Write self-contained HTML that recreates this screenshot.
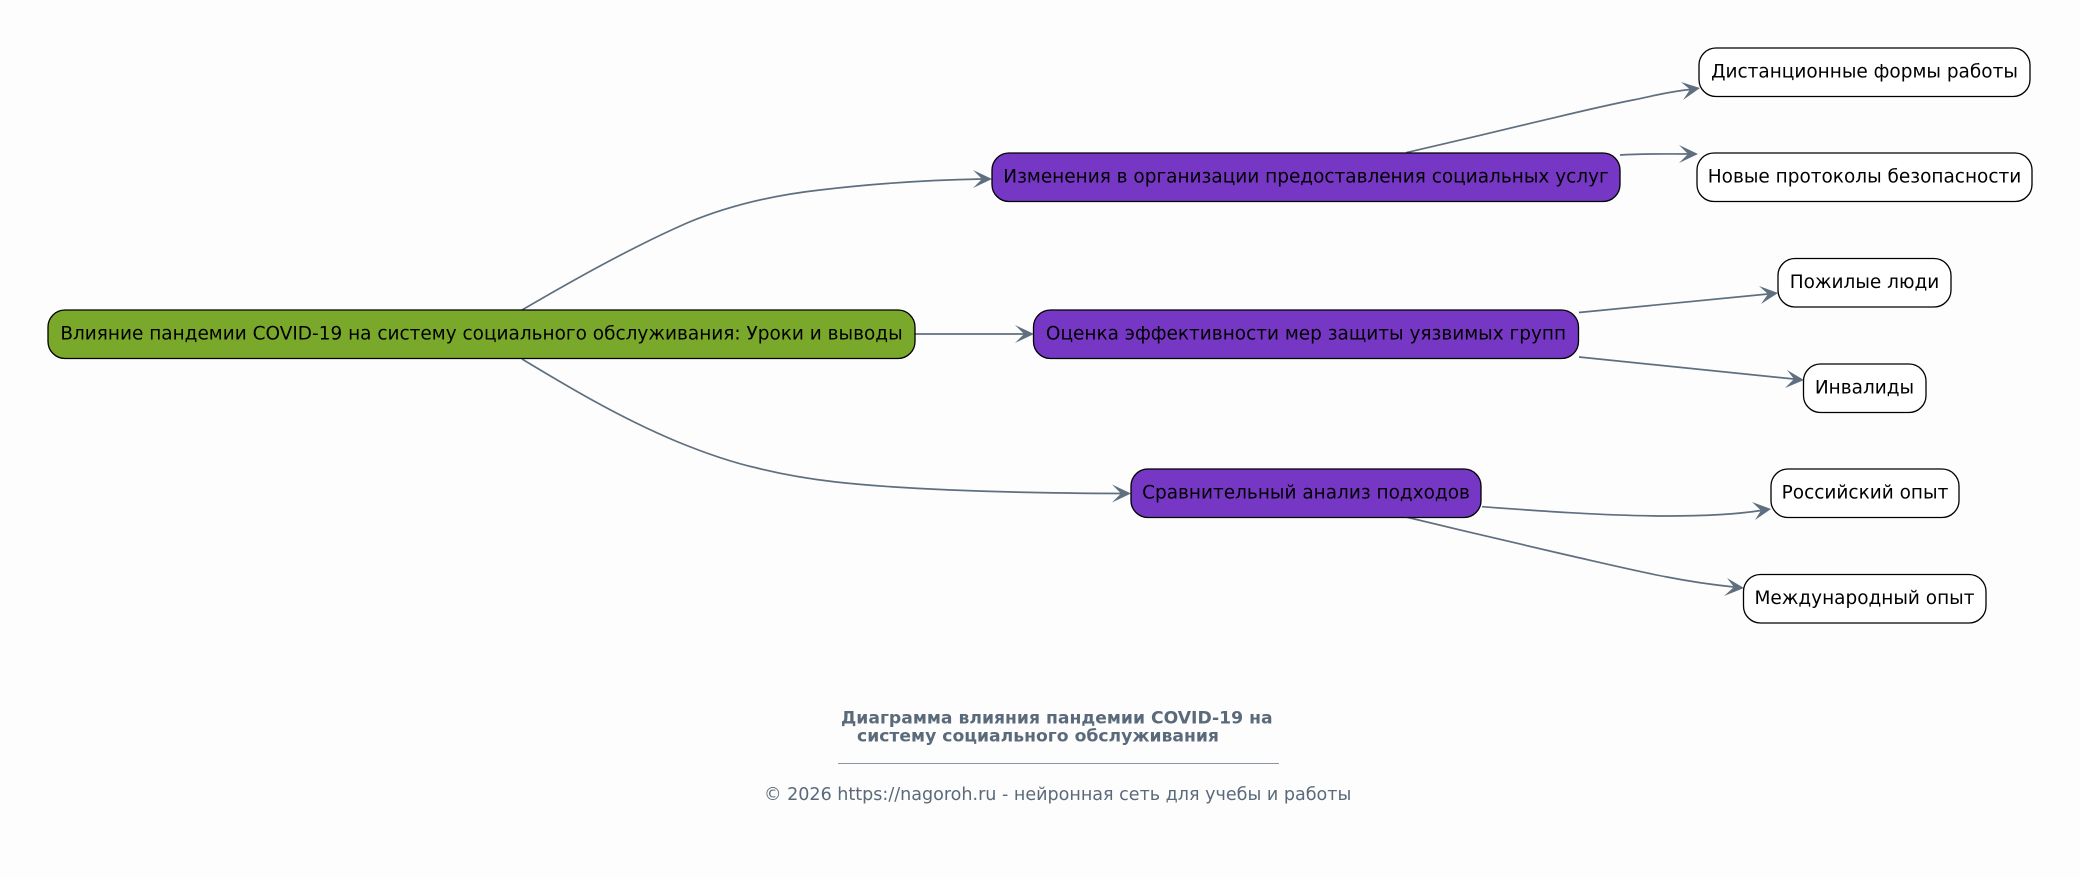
<!DOCTYPE html>
<html><head><meta charset="utf-8"><style>
html,body{margin:0;padding:0;background:#fdfdfd}
svg{display:block}
text{font-family:"DejaVu Sans",sans-serif;fill:#000}
.n{font-size:18.48px;text-anchor:middle}
.e{fill:none;stroke:#5f6f7f;stroke-width:1.7}
.a{fill:#5f6f7f}
.f{fill:#5a6a7a}
</style></head><body>
<svg width="2080" height="879" viewBox="0 0 2080 879" xmlns="http://www.w3.org/2000/svg">
<rect width="2080" height="879" fill="#fdfdfd"/>
<path class="e" d="M522,310 C570,282 630,248 687,223 C730,205 775,195 820,190 C870,184 930,180 982,179"/>
<polygon class="a" points="992,179 973,170 982,179 973,188"/>
<path class="e" d="M915,334 L1024,334"/>
<polygon class="a" points="1034,334 1015,325 1024,334 1015,343"/>
<path class="e" d="M522,359 C565,385 620,418 678,442 C705,453 730,462 757,468 C785,475 810,479 836,482 C900,489 1000,493 1121,493.5"/>
<polygon class="a" points="1131,493.5 1112,484.5 1121,493.5 1112,502.5"/>
<path class="e" d="M1406,152.7 C1450,142.5 1490,133 1533,122.7 C1570,114 1600,106.500 1633,100 C1655,95.500 1672,91 1690,89.500"/>
<polygon class="a" points="1700,88 1681,82 1690,89.500 1683,100"/>
<path class="e" d="M1620,155 C1645,153.500 1665,154 1688,154"/>
<polygon class="a" points="1698,154 1679,145 1688,154 1679,163"/>
<path class="e" d="M1579,312.500 L1768,294"/>
<polygon class="a" points="1778,293 1759,286 1768,294 1761,304"/>
<path class="e" d="M1579,357 L1794,379"/>
<polygon class="a" points="1804,380 1787,370 1794,379 1785,388"/>
<path class="e" d="M1482,506.7 C1540,511 1610,516 1667,516 C1700,516 1735,514.500 1761,510.500"/>
<polygon class="a" points="1771,509 1752,502 1761,510.500 1755,520"/>
<path class="e" d="M1406,517 C1460,530 1510,542 1567,555 C1600,562.500 1640,572 1667,577 C1690,581.500 1715,585 1734,587"/>
<polygon class="a" points="1744,588 1727,578 1734,587 1724,596"/>
<rect x="48" y="310" width="867" height="48.500" rx="17" fill="#7aa82a" stroke="#000" stroke-width="1.3"/>
<rect x="992" y="153" width="628" height="48.500" rx="17" fill="#7637c4" stroke="#000" stroke-width="1.3"/>
<rect x="1033.500" y="310" width="545" height="48.500" rx="17" fill="#7637c4" stroke="#000" stroke-width="1.3"/>
<rect x="1131" y="469" width="350" height="48.500" rx="17" fill="#7637c4" stroke="#000" stroke-width="1.3"/>
<rect x="1699" y="48" width="331" height="48.500" rx="17" fill="#fff" stroke="#000" stroke-width="1.3"/>
<rect x="1697" y="153" width="335" height="48.500" rx="17" fill="#fff" stroke="#000" stroke-width="1.3"/>
<rect x="1778" y="258.500" width="173" height="48.500" rx="17" fill="#fff" stroke="#000" stroke-width="1.3"/>
<rect x="1803.500" y="364" width="122.500" height="48.500" rx="17" fill="#fff" stroke="#000" stroke-width="1.3"/>
<rect x="1771" y="469" width="188" height="48.500" rx="17" fill="#fff" stroke="#000" stroke-width="1.3"/>
<rect x="1743.500" y="574.500" width="242.500" height="48.500" rx="17" fill="#fff" stroke="#000" stroke-width="1.3"/>
<text class="n" x="481.500" y="339.500">Влияние пандемии COVID-19 на систему социального обслуживания: Уроки и выводы</text>
<text class="n" x="1306" y="182.500">Изменения в организации предоставления социальных услуг</text>
<text class="n" x="1306" y="339.500">Оценка эффективности мер защиты уязвимых групп</text>
<text class="n" x="1306" y="498.500">Сравнительный анализ подходов</text>
<text class="n" x="1864.500" y="77.500">Дистанционные формы работы</text>
<text class="n" x="1864.500" y="182.500">Новые протоколы безопасности</text>
<text class="n" x="1864.500" y="288">Пожилые люди</text>
<text class="n" x="1864.500" y="393.500">Инвалиды</text>
<text class="n" x="1865" y="498.500">Российский опыт</text>
<text class="n" x="1864.500" y="604">Международный опыт</text>
<text class="f" x="841" y="723.500" font-size="17.2" font-weight="bold">Диаграмма влияния пандемии COVID-19 на</text>
<text class="f" x="857" y="741.500" font-size="17.2" font-weight="bold">систему социального обслуживания</text>
<rect x="838" y="763" width="441" height="1" fill="#8a96a3"/>
<text class="f" x="764" y="800" font-size="17.55">© 2026 https://nagoroh.ru - нейронная сеть для учебы и работы</text>
</svg>
</body></html>
